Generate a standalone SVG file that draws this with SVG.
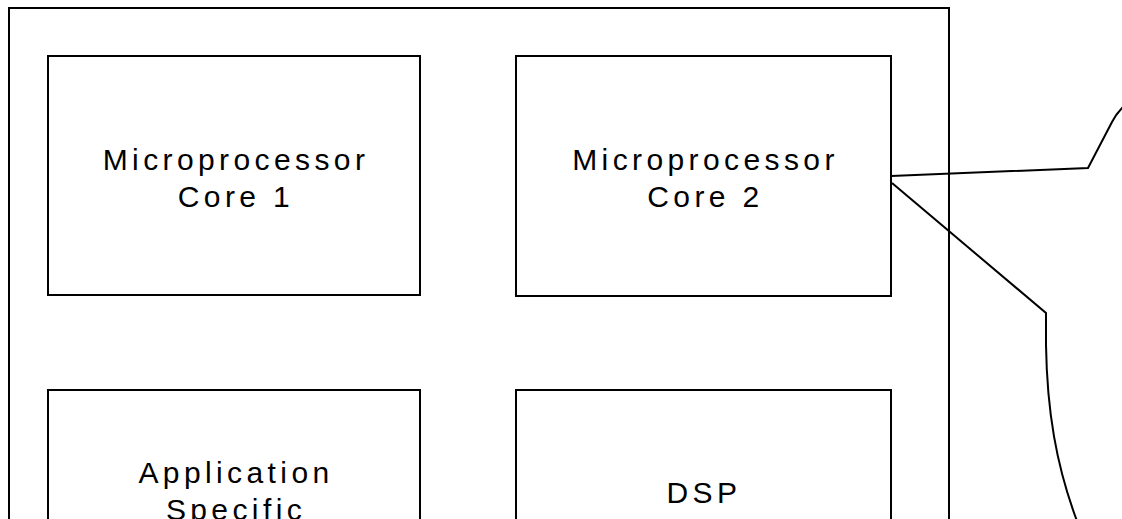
<svg xmlns="http://www.w3.org/2000/svg" width="1122" height="519" viewBox="0 0 1122 519">
  <style>
    .box { fill: #fff; stroke: #000; stroke-width: 2; }
    .frame { fill: none; stroke: #000; stroke-width: 2; }
    .wire { fill: none; stroke: #000; stroke-width: 2; stroke-linejoin: miter; }
    .lbl { font-family: "Liberation Sans", Arial, sans-serif; font-size: 30px; letter-spacing: 4.4px; fill: #000; text-anchor: middle; }
  </style>
  <rect width="1122" height="519" fill="#fff"/>

  <!-- chip outline -->
  <g id="chip">
    <rect class="frame" x="9" y="8" width="940" height="560"/>
  </g>

  <g id="core1">
    <rect class="box" x="48" y="56" width="372" height="239"/>
    <text class="lbl" x="236" y="170">Microprocessor</text>
    <text class="lbl" x="236" y="207">Core 1</text>
  </g>

  <g id="core2">
    <rect class="box" x="516" y="56" width="375" height="240"/>
    <text class="lbl" x="705.5" y="170">Microprocessor</text>
    <text class="lbl" x="705.5" y="207">Core 2</text>
  </g>

  <g id="asic">
    <rect class="box" x="48" y="390" width="372" height="240"/>
    <text class="lbl" x="236" y="483">Application</text>
    <text class="lbl" x="236" y="520">Specific</text>
  </g>

  <g id="dsp">
    <rect class="box" x="516" y="390" width="375" height="240"/>
    <text class="lbl" x="704" y="503">DSP</text>
    <text class="lbl" x="704" y="540">Core</text>
  </g>

  <!-- callout lines leaving core 2 -->
  <g id="connectors">
    <path class="wire" d="M891,176 L1088,168 L1112,122 Q1116,114 1124,106"/>
    <path class="wire" d="M892,183 L1046,313 L1046,345 C1047,410 1056,465 1077,521"/>
  </g>
</svg>
